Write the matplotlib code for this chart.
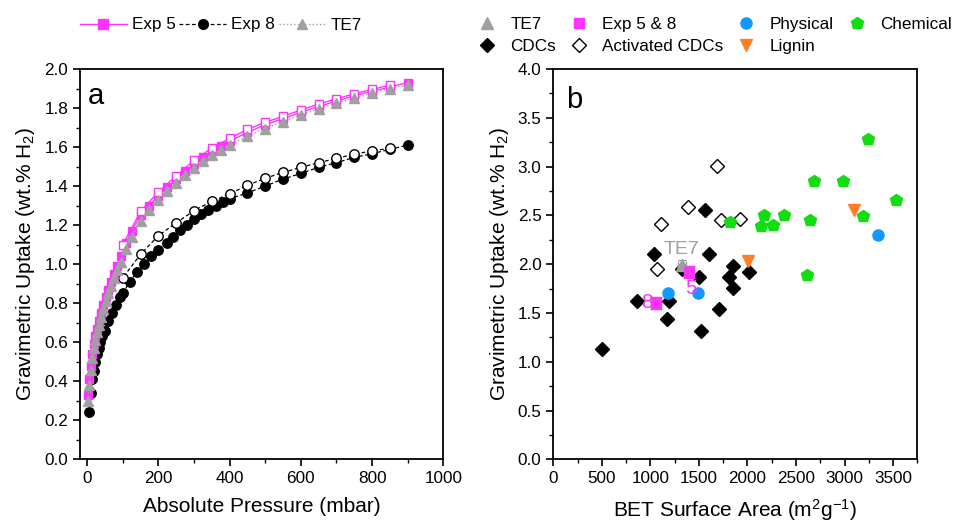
import matplotlib
matplotlib.use("Agg")
import matplotlib.pyplot as plt
from matplotlib.ticker import MultipleLocator, FormatStrFormatter
from matplotlib.lines import Line2D

plt.rcParams['font.family'] = ['Liberation Sans', 'DejaVu Sans']
plt.rcParams['mathtext.default'] = 'regular'

# ---------------- Panel a data ----------------
p_exp5 = [3, 6, 10, 14, 18, 22, 27, 32, 38, 45, 52, 60, 68, 76, 85, 95, 110, 125, 150, 175,
          200, 225, 250, 275, 300, 325, 350, 375, 400, 450, 500, 550, 600, 650, 700, 750, 800, 850, 900]
u_exp5 = [0.33, 0.41, 0.48, 0.54, 0.59, 0.63, 0.67, 0.71, 0.75, 0.79, 0.83, 0.87, 0.91, 0.95, 0.99, 1.04,
          1.11, 1.17, 1.25, 1.30, 1.35, 1.395, 1.435, 1.475, 1.515, 1.55, 1.58, 1.605, 1.63, 1.675, 1.715,
          1.745, 1.778, 1.808, 1.835, 1.863, 1.885, 1.908, 1.93]
p_exp5_des = [850, 800, 750, 700, 650, 600, 550, 500, 450, 400, 350, 300, 250, 200, 150, 100]
u_exp5_des = [1.918, 1.895, 1.873, 1.847, 1.82, 1.79, 1.757, 1.727, 1.69, 1.645, 1.595, 1.532,
              1.452, 1.37, 1.27, 1.10]

p_te7 = p_exp5
u_te7 = [0.30, 0.38, 0.46, 0.52, 0.57, 0.61, 0.65, 0.69, 0.73, 0.77, 0.81, 0.85, 0.89, 0.93, 0.97, 1.01,
         1.08, 1.14, 1.22, 1.28, 1.33, 1.375, 1.415, 1.455, 1.495, 1.53, 1.56, 1.585, 1.61, 1.655, 1.695,
         1.73, 1.765, 1.795, 1.825, 1.85, 1.875, 1.90, 1.92]

p_exp8 = [5, 10, 15, 18, 23, 27, 33, 37, 43, 50, 60, 70, 81, 91, 100, 120, 140, 160, 180, 200,
          224, 242, 261, 280, 301, 320, 340, 362, 382, 401, 450, 500, 550, 600, 650, 700, 750, 800, 850, 900]
u_exp8 = [0.24, 0.34, 0.41, 0.45, 0.50, 0.54, 0.57, 0.60, 0.63, 0.66, 0.71, 0.75, 0.79, 0.83, 0.85,
          0.91, 0.96, 1.00, 1.04, 1.07, 1.11, 1.14, 1.175, 1.20, 1.23, 1.255, 1.277, 1.30, 1.32, 1.335,
          1.365, 1.40, 1.436, 1.465, 1.496, 1.52, 1.547, 1.566, 1.588, 1.61]
p_exp8_des = [850, 800, 750, 700, 650, 600, 550, 500, 450, 400, 350, 300, 250, 200, 150, 100]
u_exp8_des = [1.594, 1.58, 1.564, 1.542, 1.52, 1.496, 1.47, 1.44, 1.404, 1.36, 1.322, 1.274,
              1.211, 1.146, 1.05, 0.93]

# ---------------- Panel b data ----------------
te7_bet, te7_up = [1324], [1.99]
exp_bet, exp_up = [1403, 1056], [1.92, 1.605]
exp_labels = ['5', '8']
phys_bet = [1186, 1489, 3348]
phys_up = [1.70, 1.70, 2.30]
chem_bet = [1822, 2139, 2173, 2262, 2372, 2647, 2616, 2681, 2988, 3190, 3238, 3527]
chem_up = [2.43, 2.39, 2.50, 2.40, 2.50, 2.45, 1.89, 2.85, 2.85, 2.49, 3.28, 2.66]
cdc_bet = [499, 860, 1042, 1169, 1196, 1324, 1503, 1523, 1564, 1609, 1712, 1815, 1856, 1856, 2018]
cdc_up = [1.13, 1.62, 2.10, 1.44, 1.62, 1.95, 1.87, 1.31, 2.56, 2.10, 1.54, 1.87, 1.98, 1.76, 1.92]
acdc_bet = [1066, 1107, 1386, 1691, 1726, 1925]
acdc_up = [1.95, 2.41, 2.59, 3.01, 2.45, 2.46]
lig_bet = [2004, 3101]
lig_up = [2.03, 2.55]

MAG = '#FF33FF'
GRAY = '#A0A0A0'
BLUE = '#1199FF'
GREEN = '#11DD11'
ORANGE = '#FF7F27'

fig = plt.figure(figsize=(9.6, 5.27), dpi=100)
axa = fig.add_axes([80/960, 1-459.3/527, 363.3/960, 390.3/527])
axb = fig.add_axes([553.3/960, 1-459.3/527, 364/960, 390.3/527])

# ---- panel a ----
axa.plot(p_exp8, u_exp8, ls='--', color='black', lw=0.9, marker='o', ms=6.8,
         mfc='black', mec='black', dashes=(3, 2))
axa.plot(p_exp8_des, u_exp8_des, ls='--', color='black', lw=0.9, marker='o', ms=6.8,
         mfc='white', mec='black', dashes=(3, 2))
axa.plot(p_exp5, u_exp5, ls='-', color=MAG, lw=1.0, marker='s', ms=6, mfc=MAG, mec=MAG)
axa.plot(p_exp5_des, u_exp5_des, ls='-', color=MAG, lw=1.0, marker='s', ms=6, mfc='white', mec=MAG)
axa.plot(p_te7, u_te7, ls=':', color=GRAY, lw=1.0, marker='^', ms=7.5, mfc=GRAY, mec=GRAY)

axa.set_xlim(-20, 1000)
axa.set_ylim(0, 2.0)
axa.xaxis.set_major_locator(MultipleLocator(200))
axa.xaxis.set_minor_locator(MultipleLocator(100))
axa.yaxis.set_major_locator(MultipleLocator(0.2))
axa.yaxis.set_minor_locator(MultipleLocator(0.1))
axa.yaxis.set_major_formatter(FormatStrFormatter('%.1f'))
axa.set_xlabel('Absolute Pressure (mbar)', fontsize=15, labelpad=8)
axa.set_ylabel('Gravimetric Uptake (wt.% H$_2$)', fontsize=15, labelpad=5)
axa.text(0.02, 0.91, 'a', transform=axa.transAxes, fontsize=21, va='baseline')

# ---- panel b ----
axb.plot(cdc_bet, cdc_up, ls='none', marker='D', ms=7, color='black', label='CDCs')
axb.plot(acdc_bet, acdc_up, ls='none', marker='D', ms=7, mfc='white', mec='black', mew=1.0,
         label='Activated CDCs')
axb.plot(phys_bet, phys_up, ls='none', marker='o', ms=8, color=BLUE, label='Physical')
axb.plot(chem_bet, chem_up, ls='none', marker='p', ms=9, color=GREEN, label='Chemical')
axb.plot(lig_bet, lig_up, ls='none', marker='v', ms=8.5, color=ORANGE, label='Lignin')
axb.errorbar(te7_bet, te7_up, xerr=40, yerr=0.05, fmt='^', ms=8, color=GRAY, ecolor=GRAY,
             elinewidth=1, capsize=3, label='TE7')
axb.errorbar(exp_bet, exp_up, yerr=0.06, fmt='s', ms=7, color=MAG, ecolor=MAG,
             elinewidth=1, capsize=4, label='Exp 5 & 8')
axb.text(te7_bet[0], te7_up[0] + 0.07, 'TE7', color=GRAY, fontsize=14, ha='center', va='bottom')
axb.text(exp_bet[0] + 14, exp_up[0] - 0.07, exp_labels[0], color=MAG, fontsize=15, ha='center', va='top')
axb.text(exp_bet[1] - 35, exp_up[1], exp_labels[1], color=MAG, fontsize=15, ha='right', va='center')

axb.set_xlim(0, 3750)
axb.set_ylim(0, 4.0)
axb.xaxis.set_major_locator(MultipleLocator(500))
axb.xaxis.set_minor_locator(MultipleLocator(250))
axb.yaxis.set_major_locator(MultipleLocator(0.5))
axb.yaxis.set_minor_locator(MultipleLocator(0.25))
axb.yaxis.set_major_formatter(FormatStrFormatter('%.1f'))
axb.set_xlabel('BET Surface Area (m$^2$g$^{-1}$)', fontsize=15, labelpad=8)
axb.set_ylabel('Gravimetric Uptake (wt.% H$_2$)', fontsize=15, labelpad=5)
axb.text(0.035, 0.90, 'b', transform=axb.transAxes, fontsize=21, va='baseline')

for ax in (axa, axb):
    for s in ax.spines.values():
        s.set_linewidth(1.3)
    ax.tick_params(which='major', direction='out', length=5, width=1.2, labelsize=12.3,
                   top=False, right=False)
    ax.tick_params(which='minor', direction='out', length=3, width=1.0, top=False, right=False)

# ---- legends ----
h_a = [Line2D([], [], ls='-', color=MAG, lw=1.0, marker='s', ms=6.5, mfc=MAG, mec=MAG),
       Line2D([], [], ls='--', color='black', lw=0.9, marker='o', ms=7, dashes=(3, 2)),
       Line2D([], [], ls=':', color=GRAY, lw=1.0, marker='^', ms=7.5)]
fig.legend(h_a, ['Exp 5', 'Exp 8', 'TE7'], loc='center left', bbox_to_anchor=(80/960, 1-25/527),
           ncol=3, frameon=False, fontsize=12.3, handlelength=2.75, handletextpad=0.3,
           columnspacing=0.2, borderpad=0, borderaxespad=0)

h_b = [Line2D([], [], ls='none', marker='^', ms=8, color=GRAY),
       Line2D([], [], ls='none', marker='D', ms=7, color='black'),
       Line2D([], [], ls='none', marker='s', ms=7, color=MAG),
       Line2D([], [], ls='none', marker='D', ms=7, mfc='white', mec='black'),
       Line2D([], [], ls='none', marker='o', ms=8, color=BLUE),
       Line2D([], [], ls='none', marker='v', ms=8.5, color=ORANGE),
       Line2D([], [], ls='none', marker='p', ms=9, color=GREEN)]
l_b = ['TE7', 'CDCs', 'Exp 5 & 8', 'Activated CDCs', 'Physical', 'Lignin', 'Chemical']
fig.legend(h_b, l_b, loc='center left', bbox_to_anchor=(478.7/960, 1-35.5/527),
           ncol=4, frameon=False, fontsize=12.3, handlelength=1.0, handletextpad=0.85,
           columnspacing=0.85, labelspacing=0.38, borderpad=0, borderaxespad=0)

fig.savefig('out.png', dpi=100)
